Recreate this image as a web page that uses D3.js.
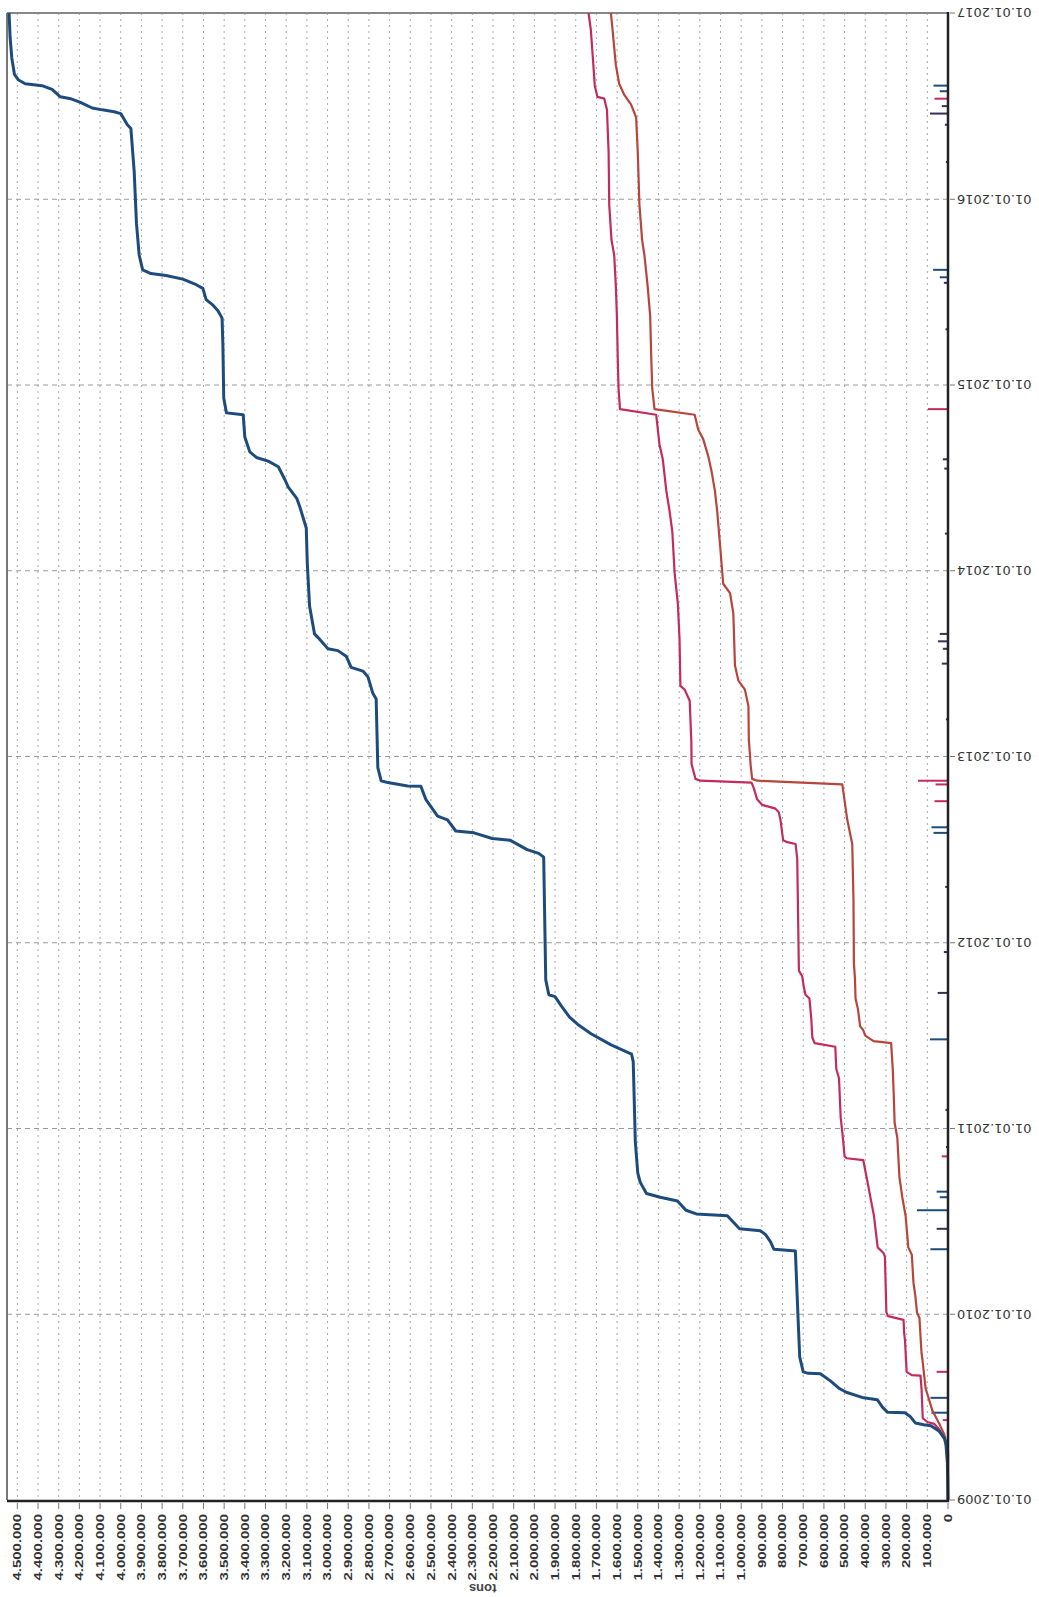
<!DOCTYPE html>
<html><head><meta charset="utf-8">
<script src="https://cdn.jsdelivr.net/npm/d3@7"></script>
<style>body{margin:0;background:#fff}svg{display:block}</style>
</head><body>
<svg id="chart" width="1039" height="1597"></svg>
<script>
// ---- data (time as decimal year, value in tons) ----
const yearTicks = [2009, 2010, 2011, 2012, 2013, 2014, 2015, 2016, 2017];
const tonTicks = [0,100000,200000,300000,400000,500000,600000,700000,800000,900000,1000000,1100000,1200000,1300000,1400000,1500000,1600000,1700000,1800000,1900000,2000000,2100000,2200000,2300000,2400000,2500000,2600000,2700000,2800000,2900000,3000000,3100000,3200000,3300000,3400000,3500000,3600000,3700000,3800000,3900000,4000000,4100000,4200000,4300000,4400000,4500000];
const axisTitle = "tons";

const blueSeries = [
[2009.00,0],[2009.20,3000],[2009.30,10000],[2009.33,17000],[2009.37,42000],[2009.40,83000],[2009.405,117000],
[2009.415,158000],[2009.45,183000],[2009.47,208000],[2009.472,292000],[2009.50,317000],[2009.54,342000],
[2009.55,408000],[2009.58,492000],[2009.60,525000],[2009.64,567000],[2009.68,617000],[2009.682,675000],
[2009.69,700000],[2009.77,717000],[2009.98,725000],[2010.34,738000],[2010.342,750000],[2010.35,842000],
[2010.39,858000],[2010.43,883000],[2010.45,908000],[2010.46,1008000],[2010.49,1033000],[2010.53,1067000],
[2010.54,1217000],[2010.56,1267000],[2010.61,1308000],[2010.63,1392000],[2010.65,1458000],[2010.71,1488000],
[2010.76,1500000],[2010.93,1512000],[2011.36,1522000],[2011.40,1530000],[2011.45,1629000],[2011.51,1726000],
[2011.56,1790000],[2011.60,1830000],[2011.66,1870000],[2011.71,1900000],[2011.72,1930000],[2011.80,1945000],
[2012.46,1955000],[2012.48,1979000],[2012.50,2035000],[2012.55,2116000],[2012.56,2204000],[2012.59,2292000],
[2012.60,2380000],[2012.66,2420000],[2012.68,2468000],[2012.77,2525000],[2012.84,2549000],[2012.842,2613000],
[2012.86,2709000],[2012.87,2741000],[2012.94,2757000],[2013.31,2765000],[2013.34,2781000],[2013.43,2805000],
[2013.46,2829000],[2013.48,2886000],[2013.54,2910000],[2013.57,2950000],[2013.58,2998000],[2013.64,3046000],
[2013.66,3063000],[2013.81,3087000],[2014.04,3098000],[2014.23,3103000],[2014.34,3133000],[2014.39,3149000],
[2014.45,3190000],[2014.49,3206000],[2014.56,3238000],[2014.59,3287000],[2014.61,3344000],[2014.64,3376000],
[2014.72,3400000],[2014.84,3408000],[2014.85,3489000],[2014.93,3502000],[2015.21,3506000],[2015.36,3510000],
[2015.40,3530000],[2015.43,3554000],[2015.46,3587000],[2015.52,3603000],[2015.54,3635000],[2015.57,3700000],
[2015.59,3781000],[2015.60,3854000],[2015.62,3894000],[2015.70,3911000],[2015.87,3924000],[2016.15,3935000],
[2016.38,3951000],[2016.40,3968000],[2016.46,4000000],[2016.47,4032000],[2016.48,4089000],[2016.49,4138000],
[2016.52,4195000],[2016.54,4243000],[2016.55,4292000],[2016.59,4332000],[2016.61,4381000],[2016.62,4462000],
[2016.64,4494000],[2016.67,4514000],[2016.76,4527000],[2016.87,4535000],[2017.00,4540000]
];

const magentaSeries = [
[2009.00,0],[2009.25,0],[2009.33,17000],[2009.38,42000],[2009.41,67000],[2009.42,100000],[2009.44,122000],
[2009.60,128000],[2009.67,133000],[2009.672,175000],[2009.69,200000],[2009.86,208000],[2009.90,212000],
[2009.97,215000],[2009.99,290000],[2010.01,298000],[2010.31,305000],[2010.33,312000],[2010.36,340000],
[2010.53,358000],[2010.64,377000],[2010.74,394000],[2010.83,410000],[2010.84,490000],[2010.85,500000],
[2010.97,510000],[2011.06,519000],[2011.27,527000],[2011.32,540000],[2011.44,545000],[2011.46,645000],
[2011.49,656000],[2011.59,661000],[2011.70,670000],[2011.72,689000],[2011.76,697000],[2011.82,705000],
[2011.85,721000],[2012.23,726000],[2012.45,729000],[2012.53,737000],[2012.54,777000],[2012.55,797000],
[2012.66,810000],[2012.70,818000],[2012.72,834000],[2012.74,898000],[2012.77,923000],[2012.83,939000],
[2012.86,950000],[2012.87,1197000],[2012.88,1221000],[2012.96,1240000],[2013.08,1241000],[2013.30,1249000],
[2013.36,1273000],[2013.38,1294000],[2013.63,1298000],[2013.82,1306000],[2013.99,1322000],[2014.21,1333000],
[2014.32,1346000],[2014.43,1362000],[2014.60,1379000],[2014.68,1395000],[2014.84,1411000],[2014.87,1586000],
[2014.98,1593000],[2015.15,1597000],[2015.37,1601000],[2015.53,1606000],[2015.70,1614000],[2015.78,1627000],
[2015.97,1638000],[2016.25,1641000],[2016.48,1649000],[2016.54,1662000],[2016.55,1695000],[2016.61,1708000],
[2016.74,1716000],[2016.91,1727000],[2017.00,1738000]
];

const brownSeries = [
[2009.00,0],[2009.27,0],[2009.35,17000],[2009.41,42000],[2009.48,75000],[2009.60,108000],[2009.76,124000],
[2009.79,128000],[2009.98,138000],[2010.01,150000],[2010.10,158000],[2010.17,167000],[2010.32,175000],
[2010.36,192000],[2010.53,205000],[2010.63,221000],[2010.74,235000],[2010.95,245000],[2011.03,258000],
[2011.17,262000],[2011.32,267000],[2011.46,275000],[2011.47,360000],[2011.50,400000],[2011.53,410000],
[2011.55,425000],[2011.64,435000],[2011.70,447000],[2011.81,450000],[2011.89,455000],[2012.23,457000],
[2012.53,463000],[2012.66,487000],[2012.85,511000],[2012.87,923000],[2012.88,947000],[2012.96,955000],
[2013.00,957000],[2013.09,963000],[2013.27,965000],[2013.36,982000],[2013.41,1014000],[2013.49,1030000],
[2013.77,1038000],[2013.88,1054000],[2013.93,1087000],[2014.15,1103000],[2014.32,1116000],[2014.43,1127000],
[2014.54,1144000],[2014.62,1160000],[2014.71,1184000],[2014.76,1208000],[2014.84,1225000],[2014.87,1419000],
[2014.98,1430000],[2015.15,1435000],[2015.37,1440000],[2015.53,1452000],[2015.70,1468000],[2015.78,1479000],
[2015.97,1492000],[2016.25,1500000],[2016.44,1508000],[2016.51,1533000],[2016.56,1565000],[2016.62,1590000],
[2016.72,1606000],[2016.91,1622000],[2017.00,1630000]
];

// daily quantities shown as small bars along the zero axis
const spikeYears  = [2016.61,2016.58,2016.54,2016.50,2016.46,2016.40,2015.62,2015.58,2015.55,2014.87,2014.60,2014.55,2013.66,2013.62,2013.58,2013.50,2012.87,2012.85,2012.76,2012.62,2012.59,2011.73,2011.48,2010.85,2010.66,2010.63,2010.56,2010.46,2010.35,2009.69,2009.55,2009.47,2009.43,2016.20,2015.30,2014.20,2013.20,2012.30,2011.95,2011.10,2010.90];
const spikeValues = [70000,40000,65000,30000,87000,15000,72000,40000,20000,97000,25000,18000,40000,48000,25000,30000,145000,60000,65000,80000,70000,50000,87000,30000,55000,40000,150000,55000,85000,55000,85000,80000,25000,10000,12000,15000,10000,14000,20000,12000,10000];
const spikeSeries = ["b","b","m","d","d","d","b","b","d","m","d","d","d","d","d","d","m","m","m","b","b","d","b","m","b","b","b","d","b","m","b","b","m","d","d","d","d","d","d","d","d"];

// ---- drawing ----
const W = 1039, H = 1597;
const mLeft = 7, mRight = 948, mTop = 13, mBottom = 1500;
const colors = {b: "#1d4c7c", m: "#c42a5c", d: "#3b2d55", brown: "#b8453c"};

const toDate = yv => {
  const yr = Math.floor(yv);
  const s = Date.UTC(yr, 0, 1), e = Date.UTC(yr + 1, 0, 1);
  return new Date(s + (yv - yr) * (e - s));
};

const svg = d3.select("#chart");
const x = d3.scaleLinear().domain([4550000, 0]).range([mLeft, mRight]);
const y = d3.scaleUtc().domain([toDate(2009), toDate(2017)]).range([mBottom, mTop]);

// grid
svg.append("g").selectAll("line").data(tonTicks.filter(d => d > 0)).join("line")
  .attr("x1", d => x(d)).attr("x2", d => x(d)).attr("y1", mTop).attr("y2", mBottom)
  .attr("stroke", "#a8a8a8").attr("stroke-width", 1).attr("stroke-dasharray", "2,4");
svg.append("g").selectAll("line").data(yearTicks.filter(d => d > 2009 && d < 2017)).join("line")
  .attr("x1", mLeft).attr("x2", mRight).attr("y1", d => y(toDate(d))).attr("y2", d => y(toDate(d)))
  .attr("stroke", "#9a9a9a").attr("stroke-width", 1).attr("stroke-dasharray", "5,4");

// frame (top/left)
svg.append("line").attr("x1", mLeft).attr("x2", mRight).attr("y1", mTop).attr("y2", mTop)
  .attr("stroke", "#888").attr("stroke-width", 2);
svg.append("line").attr("x1", mLeft).attr("x2", mLeft).attr("y1", mTop).attr("y2", mBottom)
  .attr("stroke", "#777").attr("stroke-width", 2);

// spikes
const spikes = spikeYears.map((t, i) => ({t, v: spikeValues[i], s: spikeSeries[i]}));
svg.append("g").selectAll("line").data(spikes).join("line")
  .attr("x1", x(0)).attr("x2", d => x(d.v))
  .attr("y1", d => y(toDate(d.t))).attr("y2", d => y(toDate(d.t)))
  .attr("stroke", d => colors[d.s]).attr("stroke-width", 2);

// lines
const line = d3.line().x(d => x(d[1])).y(d => y(toDate(d[0])));
svg.append("path").datum(brownSeries).attr("d", line).attr("fill", "none")
  .attr("stroke", colors.brown).attr("stroke-width", 2.2).attr("stroke-linejoin", "round");
svg.append("path").datum(magentaSeries).attr("d", line).attr("fill", "none")
  .attr("stroke", colors.m).attr("stroke-width", 2.2).attr("stroke-linejoin", "round");
svg.append("path").datum(blueSeries).attr("d", line).attr("fill", "none")
  .attr("stroke", colors.b).attr("stroke-width", 3).attr("stroke-linejoin", "round");

// bottom axis (tons)
const fmt = d3.formatLocale({decimal: ",", thousands: ".", grouping: [3], currency: ["", ""]}).format(",");
const bAxis = svg.append("g");
bAxis.append("line").attr("x1", mLeft).attr("x2", mRight + 1).attr("y1", mBottom + 1).attr("y2", mBottom + 1)
  .attr("stroke", "#222").attr("stroke-width", 2.5);
bAxis.selectAll("line.t").data(tonTicks).join("line").attr("class", "t")
  .attr("x1", d => x(d)).attr("x2", d => x(d)).attr("y1", mBottom + 3).attr("y2", mBottom + 9)
  .attr("stroke", "#777").attr("stroke-width", 1);
bAxis.selectAll("text").data(tonTicks).join("text")
  .attr("transform", d => `translate(${x(d)},${mBottom + 14}) rotate(-90) scale(1.36,1)`)
  .attr("text-anchor", "end").attr("dy", "0.35em")
  .attr("font-family", "Liberation Sans, Arial, sans-serif").attr("font-size", 11).attr("font-weight", "bold")
  .attr("fill", "#333").text(d => fmt(d));
svg.append("text").attr("transform", `translate(${x(2250000)},${1589}) rotate(180)`)
  .attr("text-anchor", "middle").attr("dy", "0.35em")
  .attr("font-family", "Liberation Sans, Arial, sans-serif").attr("font-size", 13).attr("font-weight", "bold")
  .attr("fill", "#444").text(axisTitle);

// right axis (dates)
const rAxis = svg.append("g");
rAxis.append("line").attr("x1", mRight).attr("x2", mRight).attr("y1", mTop - 1).attr("y2", mBottom + 2)
  .attr("stroke", "#222").attr("stroke-width", 2.5);
rAxis.selectAll("line.t").data(yearTicks).join("line").attr("class", "t")
  .attr("x1", mRight + 2).attr("x2", mRight + 7).attr("y1", d => y(toDate(d))).attr("y2", d => y(toDate(d)))
  .attr("stroke", "#777").attr("stroke-width", 1);
rAxis.selectAll("text").data(yearTicks).join("text")
  .attr("transform", d => `translate(${mRight + 9},${y(toDate(d))}) rotate(180)`)
  .attr("text-anchor", "end").attr("dy", "0.35em")
  .attr("font-family", "DejaVu Sans, sans-serif").attr("font-size", 13)
  .attr("fill", "#333").text(d => "01.01." + d);
</script>
</body></html>
